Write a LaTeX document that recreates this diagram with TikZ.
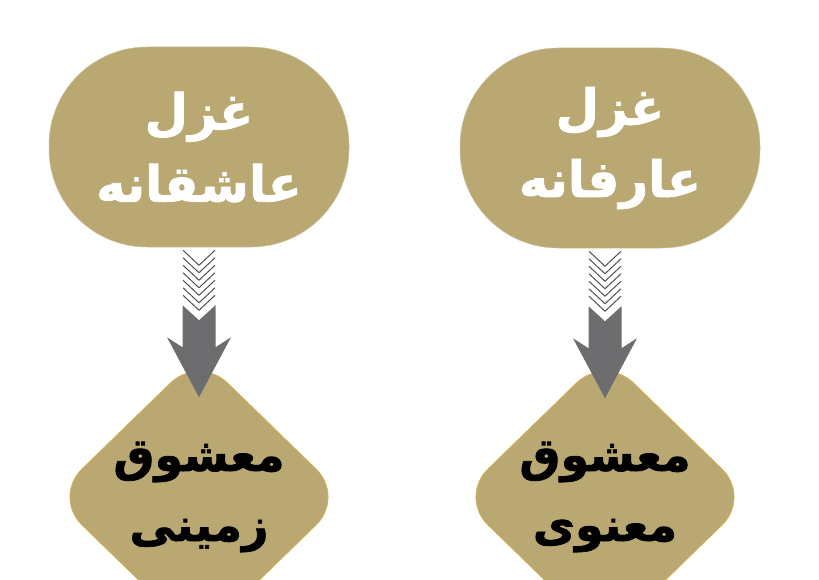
\documentclass[tikz,border=0pt]{standalone}
\usepackage{fontspec}
\newfontfamily\arabicfont[Script=Arabic,BoldFeatures={FakeBold=1.5}]{DejaVu Sans}
\TeXXeTstate=1
\usetikzlibrary{shapes.geometric}

\definecolor{khaki}{HTML}{BAA873}
\definecolor{edgegold}{HTML}{D9B24E}
\definecolor{arrowgray}{HTML}{6D6D70}
\definecolor{stripegray}{HTML}{505053}

\tikzset{
	ghazal/.style={fill=khaki, draw=khaki!70!white, line width=0.5pt,
		rounded corners=98pt, minimum width=300pt, minimum height=200pt,
		inner sep=0pt, text=white, align=center,
		font=\arabicfont\bfseries\fontsize{50}{72}\selectfont},
	beloved/.style={diamond, fill=khaki, draw=edgegold, line width=0.7pt,
		minimum width=292pt, minimum height=284pt, inner sep=0pt,
		rounded corners=40pt},
	belovedtext/.style={text=black, align=center, inner sep=0pt,
		font=\arabicfont\bfseries\fontsize{46}{70}\selectfont},
	stripe/.style={stripegray, line width=1pt},
	shaft/.style={fill=arrowgray}
}

% chevron shaft and head, drawn down from a given top point
\newcommand{\chevarrow}[1]{%
	\begin{scope}[shift={#1}]
		\foreach \k in {0,...,6}
			\draw[stripe] (-16,3+7.5*\k) -- (0,18+7.5*\k) -- (16,3+7.5*\k);
		\fill[shaft] (-16.5,58) -- (0,73) -- (16.5,58) -- (16.5,100) -- (32,90)
			-- (0,150) -- (-32,90) -- (-16.5,100) -- cycle;
	\end{scope}}

\begin{document}
\begin{tikzpicture}[x=1pt,y=-1pt]
	\clip (0,0) rectangle (819,580);

	\node[ghazal] (g1) at (199,147) {\beginR غزل\endR\\\beginR عاشقانه\endR};
	\node[ghazal] (g2) at (610,148) {\beginR غزل\endR\\\beginR عارفانه\endR};

	\node[beloved] (d1) at (199,497) {};
	\node[beloved] (d2) at (605,497) {};

	\node[belovedtext] (t1) at (d1.center) {\beginR معشوق\endR\\\beginR زمینی\endR};
	\node[belovedtext] (t2) at (d2.center) {\beginR معشوق\endR\\\beginR معنوی\endR};

	\chevarrow{(g1.south -| d1.north)}
	\chevarrow{(g2.south -| d2.north)}
\end{tikzpicture}
\end{document}
